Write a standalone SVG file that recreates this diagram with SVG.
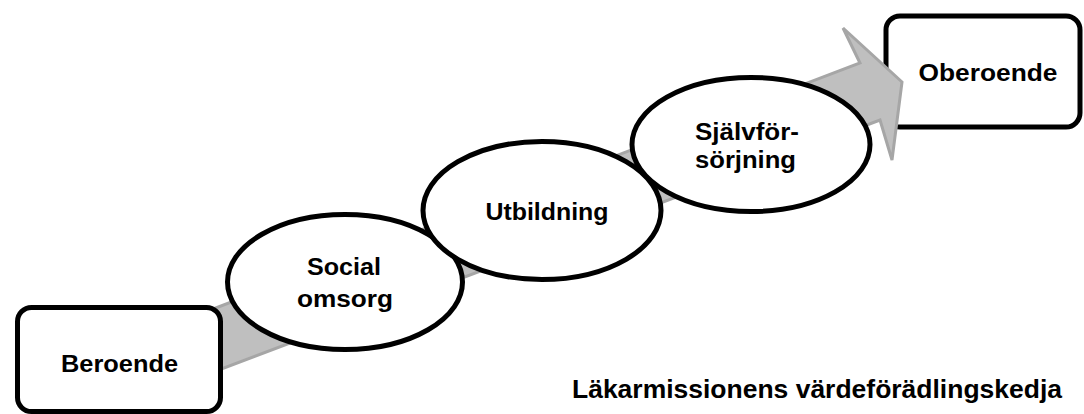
<svg xmlns="http://www.w3.org/2000/svg" width="1084" height="414" viewBox="0 0 1084 414">
<style>
.box{fill:#fff;stroke:#000;stroke-width:5}
.ell{fill:#fff;stroke:#000;stroke-width:5}
.lbl{font-family:"Liberation Sans",Arial,sans-serif;font-weight:bold;font-size:23px;fill:#000;text-anchor:middle}
.cap{font-family:"Liberation Sans",Arial,sans-serif;font-weight:bold;font-size:26.5px;fill:#000}
.arrow{fill:#bfbfbf;stroke:#a6a6a6;stroke-width:3;stroke-linejoin:miter}
</style>
<rect width="1084" height="414" fill="#fff"/>
<g id="node-oberoende">
<rect class="box" x="886" y="16" width="194" height="111" rx="14"/>
<text class="lbl" x="988" y="81" textLength="139" lengthAdjust="spacingAndGlyphs">Oberoende</text>
</g>
<g id="connectors">
<polygon class="arrow" points="150,333 860,63 843,28 902,82 892,160 880,120 150,396"/>
</g>
<g id="node-beroende">
<rect class="box" x="17.5" y="307.5" width="203" height="104" rx="14"/>
<text class="lbl" x="119.5" y="372" textLength="117" lengthAdjust="spacingAndGlyphs">Beroende</text>
</g>
<g id="node-social">
<ellipse class="ell" cx="345" cy="282" rx="117.5" ry="67.5"/>
<text class="lbl" x="344" y="275" textLength="74" lengthAdjust="spacingAndGlyphs">Social</text>
<text class="lbl" x="345" y="307" textLength="96" lengthAdjust="spacingAndGlyphs">omsorg</text>
</g>
<g id="node-utbildning">
<ellipse class="ell" cx="542" cy="210.5" rx="119" ry="69"/>
<text class="lbl" x="547" y="220" textLength="123" lengthAdjust="spacingAndGlyphs">Utbildning</text>
</g>
<g id="node-sjalvforsorjning">
<ellipse class="ell" cx="751" cy="144.5" rx="119" ry="67"/>
<text class="lbl" x="747" y="140" textLength="104" lengthAdjust="spacingAndGlyphs">Självför-</text>
<text class="lbl" x="745.5" y="168" textLength="101" lengthAdjust="spacingAndGlyphs">sörjning</text>
</g>
<g id="caption">
<text class="cap" x="572" y="398" textLength="490" lengthAdjust="spacingAndGlyphs">Läkarmissionens värdeförädlingskedja</text>
</g>
</svg>
